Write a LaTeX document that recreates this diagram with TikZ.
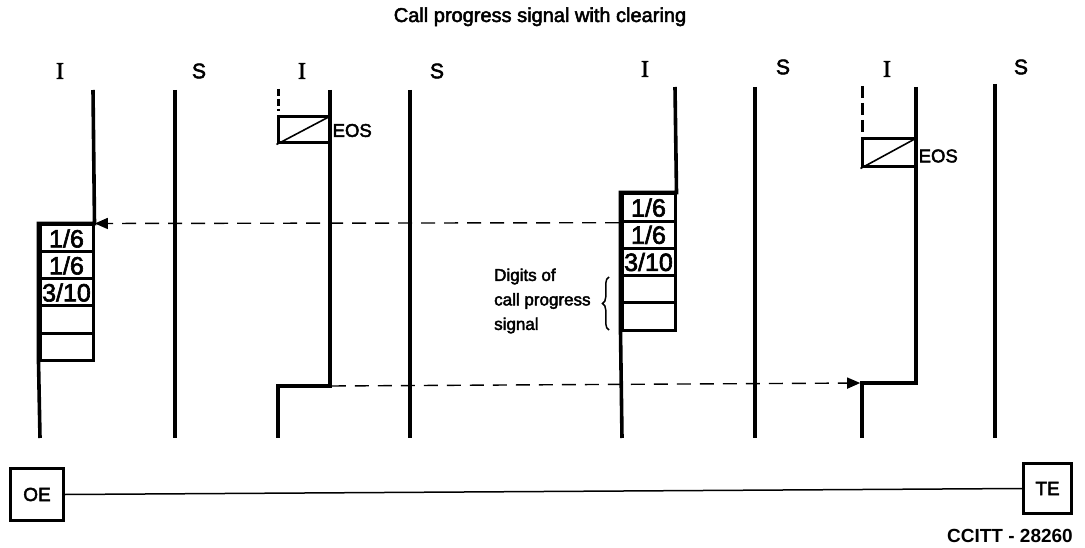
\documentclass[tikz,border=0pt]{standalone}
\usepackage{fontspec}
\setmainfont{Liberation Sans}
\newfontfamily\medium{Liberation Sans}[FakeBold=2.5]
\newfontfamily\serifI{Liberation Serif}[FakeBold=2.5]
\usetikzlibrary{arrows.meta,decorations.pathreplacing}
\begin{document}
\begin{tikzpicture}[x=1pt,y=-1pt,
  wire/.style={line width=3.6pt, line join=miter},
  cellbox/.style={draw, line width=3pt, minimum width=53pt, minimum height=27pt, inner sep=0pt, font=\medium\fontsize{25}{25}\selectfont},
  cellboxb/.style={cellbox, minimum height=27.2pt},
  sig/.style={line width=1.4pt, dash pattern=on 14pt off 9pt},
  stuba/.style={line width=3pt, dash pattern=on 7pt off 3pt},
  stubb/.style={line width=3pt, dash pattern=on 12pt off 5pt},
  eosbox/.style={draw, line width=3pt, inner sep=0pt},
  eostext/.style={font=\medium\fontsize{18.5}{18.5}\selectfont, inner sep=0pt, anchor=west},
  collabI/.style={font=\serifI\fontsize{24}{24}\selectfont, inner sep=0pt},
  collabS/.style={font=\medium\fontsize{21}{21}\selectfont, inner sep=0pt},
  endbox/.style={draw, line width=2.8pt, inner sep=0pt, font=\medium\fontsize{19}{19}\selectfont},
  tip/.style={-{Triangle[length=13pt,width=11pt]}}
]
\useasboundingbox (0,0) rectangle (1085,548);

% title
\node[font=\medium\fontsize{20}{20}\selectfont, inner sep=0pt, anchor=base] (title) at (540,22) {Call progress signal with clearing};

% column labels
\node[collabI] (li1) at (60,71) {I};
\node[collabS] (ls1) at (199,71) {S};
\node[collabI] (li2) at (302,71) {I};
\node[collabS] (ls2) at (437,71) {S};
\node[collabI] (li3) at (645,69) {I};
\node[collabS] (ls3) at (783,67) {S};
\node[collabI] (li4) at (887,69) {I};
\node[collabS] (ls4) at (1021,67) {S};

% ---------- pair 1 ----------
\node[cellbox] (c11) at (66.5,238.5) {1/6};
\node[cellbox] (c12) at (66.5,265.5) {1/6};
\node[cellbox] (c13) at (66.5,292.5) {3/10};
\node[cellbox] (c14) at (66.5,319.5) {};
\node[cellbox] (c15) at (66.5,346.5) {};
\coordinate (a1top) at (93,90);
\coordinate (a1bot) at (40,438);
\draw[wire] (a1top) -- (c11.north east) -- (c11.north west) -- (c15.south west) -- (a1bot);
\coordinate (s1top) at (175,90);
\coordinate (s1bot) at (175,438);
\draw[wire] (s1top) -- (s1bot);

% ---------- pair 2 ----------
\node[eosbox, minimum width=52pt, minimum height=26pt] (e2) at (304,130) {};
\draw[line width=1.6pt] (e2.south west) -- (e2.north east);
\node[eostext] (t2) at (332.5,130.5) {EOS};
\coordinate (d2top) at (278,89);
\coordinate (d2bot) at (278,111);
\draw[stuba] (d2top) -- (d2bot);
\coordinate (a2top) at (330,90);
\coordinate (a2cor) at (330,386);
\coordinate (a2cor2) at (278,386);
\coordinate (a2bot) at (278,438);
\draw[wire] (a2top) -- (a2cor) -- (a2cor2) -- (a2bot);
\coordinate (s2top) at (410,90);
\coordinate (s2bot) at (410,438);
\draw[wire] (s2top) -- (s2bot);

% ---------- pair 3 ----------
\node[cellboxb] (c31) at (648.5,207.6) {1/6};
\node[cellboxb] (c32) at (648.5,234.8) {1/6};
\node[cellboxb] (c33) at (648.5,262.0) {3/10};
\node[cellboxb] (c34) at (648.5,289.2) {};
\node[cellboxb] (c35) at (648.5,316.4) {};
\coordinate (a3top) at (675,87);
\coordinate (a3bot) at (622,438);
\draw[wire] (a3top) -- (c31.north east) -- (c31.north west) -- (c35.south west) -- (a3bot);
\coordinate (s3top) at (755,87);
\coordinate (s3bot) at (755,438);
\draw[wire] (s3top) -- (s3bot);

% brace and its label
\coordinate (brb) at (609,330);
\coordinate (brt) at (609,277);
\draw[line width=1.5pt, decorate, decoration={brace, amplitude=6.5pt}] (brb) -- (brt);
\node[font=\medium\fontsize{17}{24.5}\selectfont, align=left, inner sep=0pt, anchor=west] (dig) at (494,301) {Digits of\\call progress\\signal};

% ---------- pair 4 ----------
\node[eosbox, minimum width=54pt, minimum height=28pt] (e4) at (889,153) {};
\draw[line width=1.6pt] (e4.south west) -- (e4.north east);
\node[eostext] (t4) at (918.5,156) {EOS};
\coordinate (d4top) at (862,86);
\coordinate (d4bot) at (862,133);
\draw[stubb] (d4top) -- (d4bot);
\coordinate (a4top) at (916,87);
\coordinate (a4cor) at (916,383);
\coordinate (a4cor2) at (862,383);
\coordinate (a4bot) at (862,438);
\draw[wire] (a4top) -- (a4cor) -- (a4cor2) -- (a4bot);
\coordinate (s4top) at (995,84);
\coordinate (s4bot) at (995,438);
\draw[wire] (s4top) -- (s4bot);

% ---------- signals ----------
\coordinate (upsrc) at (c31.south west);
\coordinate (updst) at (93,223.5);
\draw[sig, tip, shorten >=1.8pt, shorten <=1.5pt] (upsrc) -- (updst);
\draw[sig, tip, shorten >=1.8pt, shorten <=1.8pt] (a2cor) -- (a4cor2);

% ---------- end boxes ----------
\node[endbox, minimum width=53.4pt, minimum height=52.4pt] (oe) at (37,494.5) {OE};
\node[endbox, minimum width=48.4pt, minimum height=50.4pt] (te) at (1047.5,488.5) {TE};
\draw[line width=1.5pt] (oe.east) -- (te.west);
\node[font=\bfseries\fontsize{19}{19}\selectfont, inner sep=0pt, anchor=base east] (ref) at (1073,542) {CCITT - 28260};
\end{tikzpicture}
\end{document}
